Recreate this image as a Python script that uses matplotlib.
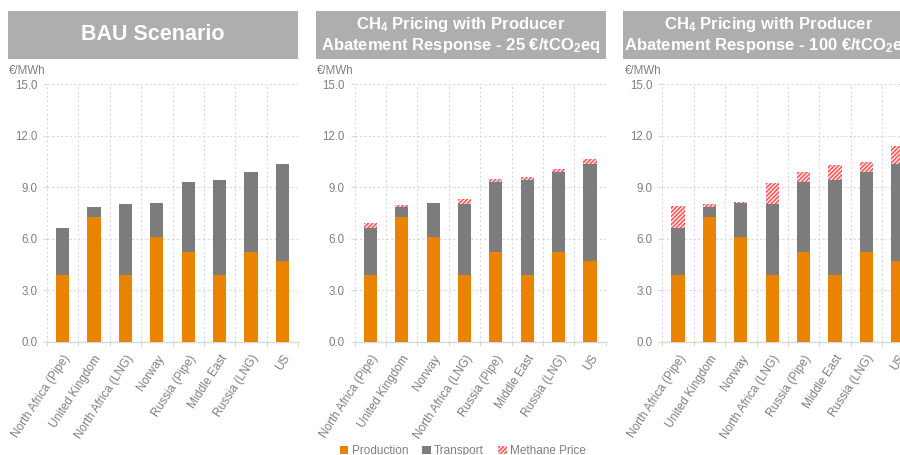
import matplotlib
matplotlib.use("Agg")
import matplotlib.pyplot as plt
from matplotlib.patches import Rectangle, Patch

plt.rcParams['font.family'] = ['Liberation Sans', 'DejaVu Sans']
plt.rcParams['mathtext.fontset'] = 'custom'
plt.rcParams['mathtext.rm'] = 'Liberation Sans'
plt.rcParams['mathtext.bf'] = 'Liberation Sans:bold'
plt.rcParams['mathtext.it'] = 'Liberation Sans:italic'
plt.rcParams['hatch.linewidth'] = 1.0

# ---------------- data ----------------
cats_bau = ['North Africa (Pipe)', 'United Kingdom', 'North Africa (LNG)', 'Norway',
            'Russia (Pipe)', 'Middle East', 'Russia (LNG)', 'US']
prod_bau = [3.89, 7.27, 3.89, 6.08, 5.21, 3.89, 5.21, 4.72]
trans_bau = [2.74, 0.60, 4.11, 1.98, 4.10, 5.51, 4.66, 5.62]

cats_ch4 = ['North Africa (Pipe)', 'United Kingdom', 'Norway', 'North Africa (LNG)',
            'Russia (Pipe)', 'Middle East', 'Russia (LNG)', 'US']
prod_ch4 = [3.89, 7.27, 6.08, 3.89, 5.21, 3.89, 5.21, 4.72]
trans_ch4 = [2.74, 0.60, 1.98, 4.11, 4.10, 5.51, 4.66, 5.62]
meth_25 = [0.28, 0.08, 0.05, 0.30, 0.15, 0.22, 0.18, 0.29]
meth_100 = [1.25, 0.14, 0.06, 1.25, 0.60, 0.90, 0.62, 1.06]

yticks = [0.0, 3.0, 6.0, 9.0, 12.0, 15.0]

titles = ['BAU Scenario',
          'CH$_\\mathbf{4}$ Pricing with Producer\nAbatement Response - 25 \u20ac/tCO$_\\mathbf{2}$eq',
          'CH$_\\mathbf{4}$ Pricing with Producer\nAbatement Response - 100 \u20ac/tCO$_\\mathbf{2}$eq']
title_sizes = [15.5, 12, 12]
unit_label = '\u20ac/MWh'
legend_labels = ['Production', 'Transport', 'Methane Price']

# ---------------- style ----------------
C_PROD = '#E98300'
C_TRANS = '#7B7C7B'
C_METH = '#FF4D4D'
C_TXT = '#808080'
C_GRID = '#D9D9D9'
C_BOX = '#AEAEAE'
HATCH = '////////'

W, H = 900, 455
fig = plt.figure(figsize=(W / 100, H / 100), dpi=100)

panel_dx = 307.7
ax_left0, ax_w = 47.0, 251.0
ax_top, ax_bot = 84.3, 341.7
box_left0, box_w, box_top, box_bot = 8.0, 290.0, 11.0, 59.0

panels = [
    (cats_bau, prod_bau, trans_bau, None),
    (cats_ch4, prod_ch4, trans_ch4, meth_25),
    (cats_ch4, prod_ch4, trans_ch4, meth_100),
]

for i, (cats, prod, trans, meth) in enumerate(panels):
    off = i * panel_dx
    ax = fig.add_axes([(ax_left0 + off) / W, 1 - ax_bot / H, ax_w / W, (ax_bot - ax_top) / H])
    x = list(range(len(cats)))
    bw = 0.42
    ax.bar(x, prod, width=bw, color=C_PROD, zorder=3, linewidth=0)
    ax.bar(x, trans, width=bw, bottom=prod, color=C_TRANS, zorder=3, linewidth=0)
    if meth is not None:
        base = [p + t for p, t in zip(prod, trans)]
        ax.bar(x, meth, width=bw, bottom=base, color='#FFE5E5', edgecolor=C_METH,
               hatch=HATCH, linewidth=0, zorder=3)
    ax.set_xlim(-0.5, len(cats) - 0.5)
    ax.set_ylim(0, 15)
    ax.set_yticks(yticks)
    ax.set_yticklabels([f'{v:.1f}' for v in yticks])
    ax.set_xticks(x)
    ax.set_xticklabels(cats, rotation=57, ha='right', va='top', rotation_mode='anchor')
    ax.set_xticks([k - 0.5 for k in range(len(cats) + 1)], minor=True)
    ax.tick_params(axis='x', which='major', length=0, pad=8, labelsize=8.5, labelcolor=C_TXT)
    ax.tick_params(axis='x', which='minor', length=3, color=C_GRID, width=0.8)
    ax.tick_params(axis='y', length=3, color=C_GRID, width=0.8, pad=4, labelsize=8.3, labelcolor=C_TXT)
    ax.grid(axis='y', which='major', color=C_GRID, linestyle=(0, (2, 2)), linewidth=0.8, zorder=0)
    ax.grid(axis='x', which='minor', color=C_GRID, linestyle=(0, (2, 2)), linewidth=0.8, zorder=0)
    ax.grid(axis='x', which='major', visible=False)
    for s in ['left', 'right', 'top']:
        ax.spines[s].set_visible(False)
    ax.spines['bottom'].set_color(C_GRID)
    ax.spines['bottom'].set_linewidth(1.0)
    ax.set_facecolor('none')

    # title box
    fig.patches.append(Rectangle(((box_left0 + off) / W, 1 - box_bot / H), box_w / W,
                                 (box_bot - box_top) / H, transform=fig.transFigure,
                                 facecolor=C_BOX, edgecolor='none', zorder=0))
    fig.text((box_left0 + off + box_w / 2) / W, 1 - (box_top + box_bot) / 2 / H, titles[i],
             ha='center', va='center', color='white', fontsize=title_sizes[i],
             fontweight='bold', linespacing=1.1)
    fig.text((9 + off) / W, 1 - 70.5 / H, unit_label, ha='left', va='center',
             color=C_TXT, fontsize=8.3)

handles = [Patch(facecolor=C_PROD, edgecolor='none'),
           Patch(facecolor=C_TRANS, edgecolor='none'),
           Patch(facecolor='#FFE5E5', edgecolor=C_METH, hatch=HATCH, linewidth=0)]
fig.legend(handles, legend_labels, loc='center', bbox_to_anchor=(463 / W, 1 - 451 / H),
           ncol=3, frameon=False, fontsize=8.5, labelcolor=C_TXT,
           handlelength=0.7, handleheight=0.7, handletextpad=0.3, columnspacing=1.2)

fig.savefig('out.png', dpi=100)
